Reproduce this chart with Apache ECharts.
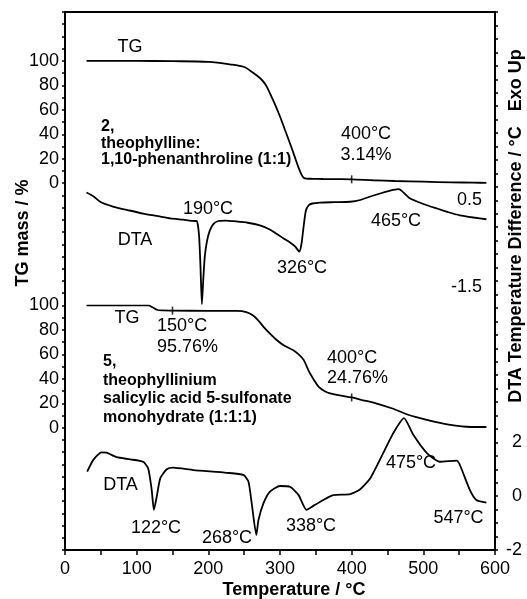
<!DOCTYPE html>
<html>
<head>
<meta charset="utf-8">
<title>TG / DTA</title>
<script src="https://cdn.jsdelivr.net/npm/echarts@6/dist/echarts.min.js"></script>
<style>
  html, body { margin: 0; padding: 0; background: #fff; }
  #container { width: 527px; height: 599px; }
</style>
</head>
<body>
<div id="container"></div>
<script>
// compound 2: TG (top) and DTA (top)
var tgTopT = [30, 60, 100, 150, 200, 230, 250, 262, 272, 280, 286, 293, 300, 307, 314, 320, 326, 330, 333, 337, 345, 360, 380, 400, 430, 460, 500, 540, 570, 588];
var tgTop  = [100, 100, 100, 99.8, 99.2, 97.2, 95, 90.5, 86, 80.5, 73.5, 64.5, 54.5, 43.5, 32.5, 22.5, 12.5, 7, 4.5, 3.8, 3.6, 3.4, 3.3, 3.14, 2.4, 1.8, 1.2, 0.7, 0.4, 0.3];

var dtaTopT = [30, 40, 49, 67, 90, 109, 130, 147, 165, 181, 184, 187, 189, 191, 193, 195, 198, 202, 207, 214, 225, 235, 255, 272, 285, 295, 305, 314, 321, 327, 330, 333, 336, 340, 345, 356, 375, 398, 412, 426, 442, 458, 466, 473, 481, 492, 505, 520, 535, 551, 570, 588];
var dtaTop  = [0.67, 0.58, 0.46, 0.35, 0.26, 0.19, 0.13, 0.08, 0.05, 0.02, 0.02, -0.3, -1.0, -1.88, -1.3, -0.8, -0.45, -0.2, -0.05, 0.02, 0.03, 0.015, -0.02, -0.08, -0.17, -0.27, -0.38, -0.47, -0.56, -0.68, -0.5, -0.1, 0.25, 0.38, 0.42, 0.44, 0.45, 0.46, 0.5, 0.58, 0.66, 0.73, 0.75, 0.66, 0.54, 0.46, 0.38, 0.3, 0.22, 0.15, 0.1, 0.06];

// compound 5: TG (bottom) and DTA (bottom)
var tgBotT = [30, 80, 116, 122, 128, 135, 150, 200, 240, 253, 263, 270, 277, 286, 295, 305, 318, 326, 333, 340, 347, 354, 362, 370, 385, 400, 418, 435, 458, 481, 505, 528, 545, 560, 575, 588];
var tgBot  = [100, 100, 100, 98.5, 96.5, 95.9, 95.76, 95.6, 95.5, 94.5, 91.5, 87.5, 82.5, 77, 72, 67.5, 63.5, 60, 55.5, 46.5, 39.5, 33.4, 30, 28, 26.3, 24.76, 22.2, 19.8, 15.5, 10.2, 6.5, 3.4, 1.8, 0.8, 0.6, 0.6];

var dtaBotT = [31, 39.5, 51, 58, 72, 91, 109, 116, 121, 124, 128, 133, 142, 151, 179, 226, 249, 256, 260.5, 267, 270, 277, 286, 300, 314, 326, 337, 346.5, 360.5, 374, 398, 412, 426, 444, 458, 473, 486, 505, 523, 546.5, 551, 565, 574, 588];
var dtaBot  = [0.91, 1.35, 1.63, 1.62, 1.45, 1.37, 1.28, 1.04, 0.23, -0.51, -0.02, 0.67, 1.0, 1.06, 0.97, 0.87, 0.79, 0.54, -0.26, -1.44, -0.88, -0.26, 0.17, 0.38, 0.35, 0.04, -0.51, -0.36, -0.14, 0.04, 0.08, 0.26, 0.67, 1.6, 2.34, 2.9, 2.28, 1.6, 1.28, 1.32, 1.16, 0.23, -0.14, -0.24];

var xTicks = [0, 100, 200, 300, 400, 500, 600];
var tgTicks = [0, 20, 40, 60, 80, 100];
var dtaTopTicks = [0.5, -1.5];
var dtaBotTicks = [-2, 0, 2];

var FONT = 'Liberation Sans, Arial, Helvetica, sans-serif';

function pairs(t, v) { return t.map(function (x, i) { return [x, v[i]]; }); }
function at(t, v, x) { return [x, v[t.indexOf(x)]]; }
function has(list, v) { return list.some(function (a) { return Math.abs(a - v) < 1e-6; }); }

// frame geometry
var L = 65, R = 32, T = 12, B = 49;
var H = 599 - T - B;
var tgStep = H / 44;            // left frame: 44 ticks
var topTgTop = T + 4 * tgStep;  // 100 of compound 2
var botTgTop = T + 24 * tgStep; // 100 of compound 5
var dtaUnit = 43.75;            // px per unit, top DTA

var myChart = echarts.init(document.getElementById('container'));

function txt(s, x, y, o) {
  o = o || {};
  return {
    type: 'text', x: x, y: y, rotation: o.rot || 0,
    style: {
      text: s, fill: '#000', fontFamily: FONT,
      fontSize: o.size || 18, fontWeight: o.bold ? 'bold' : 'normal',
      align: o.align || 'center', verticalAlign: 'middle'
    }
  };
}

var blackLine = { color: '#000', width: 2 };
var curve = { color: '#000', width: 1.8 };
var hiddenX = function (g) { return { gridIndex: g, type: 'value', min: 0, max: 600, show: false }; };

var option = {
  animation: false,
  backgroundColor: '#fff',
  grid: [
    { left: L, right: R, top: T, bottom: B },
    { left: L, right: R, top: topTgTop, height: 10 * tgStep },
    { left: L, right: R, top: 200 - 2.5 * dtaUnit, height: 5.5 * dtaUnit },
    { left: L, right: R, top: botTgTop, height: 10 * tgStep }
  ],
  xAxis: [
    {
      gridIndex: 0, type: 'value', min: 0, max: 600, interval: 50, position: 'bottom',
      axisLine: { onZero: false, lineStyle: blackLine },
      axisTick: { length: 5, lineStyle: { color: '#000', width: 1.5 } },
      axisLabel: {
        margin: 10, color: '#000', fontSize: 18, fontFamily: FONT,
        formatter: function (v) { return has(xTicks, v) ? String(v) : ''; }
      },
      splitLine: { show: false }
    },
    {
      gridIndex: 0, type: 'value', min: 0, max: 600, position: 'top',
      axisLine: { onZero: false, lineStyle: blackLine },
      axisTick: { show: false }, axisLabel: { show: false }, splitLine: { show: false }
    },
    hiddenX(1), hiddenX(2), hiddenX(3)
  ],
  yAxis: [
    {
      gridIndex: 0, type: 'value', min: 0, max: 44, interval: 1, position: 'left',
      axisLine: { show: true, onZero: false, lineStyle: blackLine },
      axisTick: { show: true, length: 3, lineStyle: { color: '#000', width: 1.5 } },
      axisLabel: { show: false }, splitLine: { show: false }
    },
    {
      gridIndex: 0, type: 'value', min: -2, max: 18, interval: 0.5, position: 'right',
      axisLine: { show: true, onZero: false, lineStyle: blackLine },
      axisTick: { show: true, length: 3, lineStyle: { color: '#000', width: 1.5 } },
      axisLabel: {
        margin: 27, align: 'right', color: '#000', fontSize: 18, fontFamily: FONT,
        formatter: function (v) { return has(dtaBotTicks, v) ? String(v) : ''; }
      },
      splitLine: { show: false }
    },
    {
      gridIndex: 1, type: 'value', min: 0, max: 100, interval: 20, position: 'left',
      axisLine: { show: false }, axisTick: { show: false }, splitLine: { show: false },
      axisLabel: { margin: 6, color: '#000', fontSize: 18, fontFamily: FONT }
    },
    {
      gridIndex: 2, type: 'value', min: -2.5, max: 3, interval: 0.5, position: 'right',
      axisLine: { show: false }, axisTick: { show: false }, splitLine: { show: false },
      axisLabel: {
        inside: true, margin: 13, color: '#000', fontSize: 18, fontFamily: FONT,
        formatter: function (v) { return has(dtaTopTicks, v) ? String(v) : ''; }
      }
    },
    {
      gridIndex: 3, type: 'value', min: 0, max: 100, interval: 20, position: 'left',
      axisLine: { show: false }, axisTick: { show: false }, splitLine: { show: false },
      axisLabel: { margin: 6, color: '#000', fontSize: 18, fontFamily: FONT }
    }
  ],
  series: [
    { name: 'TG 2', type: 'line', xAxisIndex: 2, yAxisIndex: 2, data: pairs(tgTopT, tgTop),
      smooth: 0.3, showSymbol: false, lineStyle: curve },
    { name: 'DTA 2', type: 'line', xAxisIndex: 3, yAxisIndex: 3, data: pairs(dtaTopT, dtaTop),
      smooth: 0.2, showSymbol: false, lineStyle: curve },
    { name: 'TG 5', type: 'line', xAxisIndex: 4, yAxisIndex: 4, data: pairs(tgBotT, tgBot),
      smooth: 0.3, showSymbol: false, lineStyle: curve },
    { name: 'DTA 5', type: 'line', xAxisIndex: 0, yAxisIndex: 1, data: pairs(dtaBotT, dtaBot),
      smooth: 0.2, showSymbol: false, lineStyle: curve },
    { type: 'scatter', xAxisIndex: 2, yAxisIndex: 2, data: [at(tgTopT, tgTop, 400)],
      symbol: 'rect', symbolSize: [1.6, 8], itemStyle: { color: '#000' } },
    { type: 'scatter', xAxisIndex: 4, yAxisIndex: 4, data: [at(tgBotT, tgBot, 150), at(tgBotT, tgBot, 400)],
      symbol: 'rect', symbolSize: [1.6, 8], itemStyle: { color: '#000' } }
  ],
  graphic: [
    txt('TG mass / %', 23, 233, { bold: true, rot: Math.PI / 2 }),
    txt('DTA Temperature Difference / °C   Exo Up', 516, 226, { bold: true, rot: Math.PI / 2 }),
    txt('Temperature / °C', 294, 590, { bold: true }),
    // compound 2
    txt('TG', 130, 47),
    txt('2,', 101, 127, { bold: true, size: 16, align: 'left' }),
    txt('theophylline:', 101, 143.5, { bold: true, size: 16, align: 'left' }),
    txt('1,10-phenanthroline (1:1)', 101, 160, { bold: true, size: 16, align: 'left' }),
    txt('400°C', 366, 134),
    txt('3.14%', 366, 155),
    txt('190°C', 208, 209),
    txt('DTA', 135, 240),
    txt('326°C', 302, 268),
    txt('465°C', 396, 221),
    // compound 5
    txt('TG', 127, 318.5),
    txt('150°C', 157, 326.5, { align: 'left' }),
    txt('95.76%', 157, 347.5, { align: 'left' }),
    txt('5,', 103, 362, { bold: true, size: 16, align: 'left' }),
    txt('theophyllinium', 103, 381, { bold: true, size: 16, align: 'left' }),
    txt('salicylic acid 5-sulfonate', 103, 399, { bold: true, size: 16, align: 'left' }),
    txt('monohydrate (1:1:1)', 103, 417.5, { bold: true, size: 16, align: 'left' }),
    txt('400°C', 327, 358, { align: 'left' }),
    txt('24.76%', 327, 378.5, { align: 'left' }),
    txt('DTA', 120.5, 485),
    txt('122°C', 156, 528.5),
    txt('268°C', 227, 538.5),
    txt('338°C', 311, 526.5),
    txt('475°C', 411, 463.5),
    txt('547°C', 458.5, 518.5)
  ]
};
myChart.setOption(option);
</script>
</body>
</html>
